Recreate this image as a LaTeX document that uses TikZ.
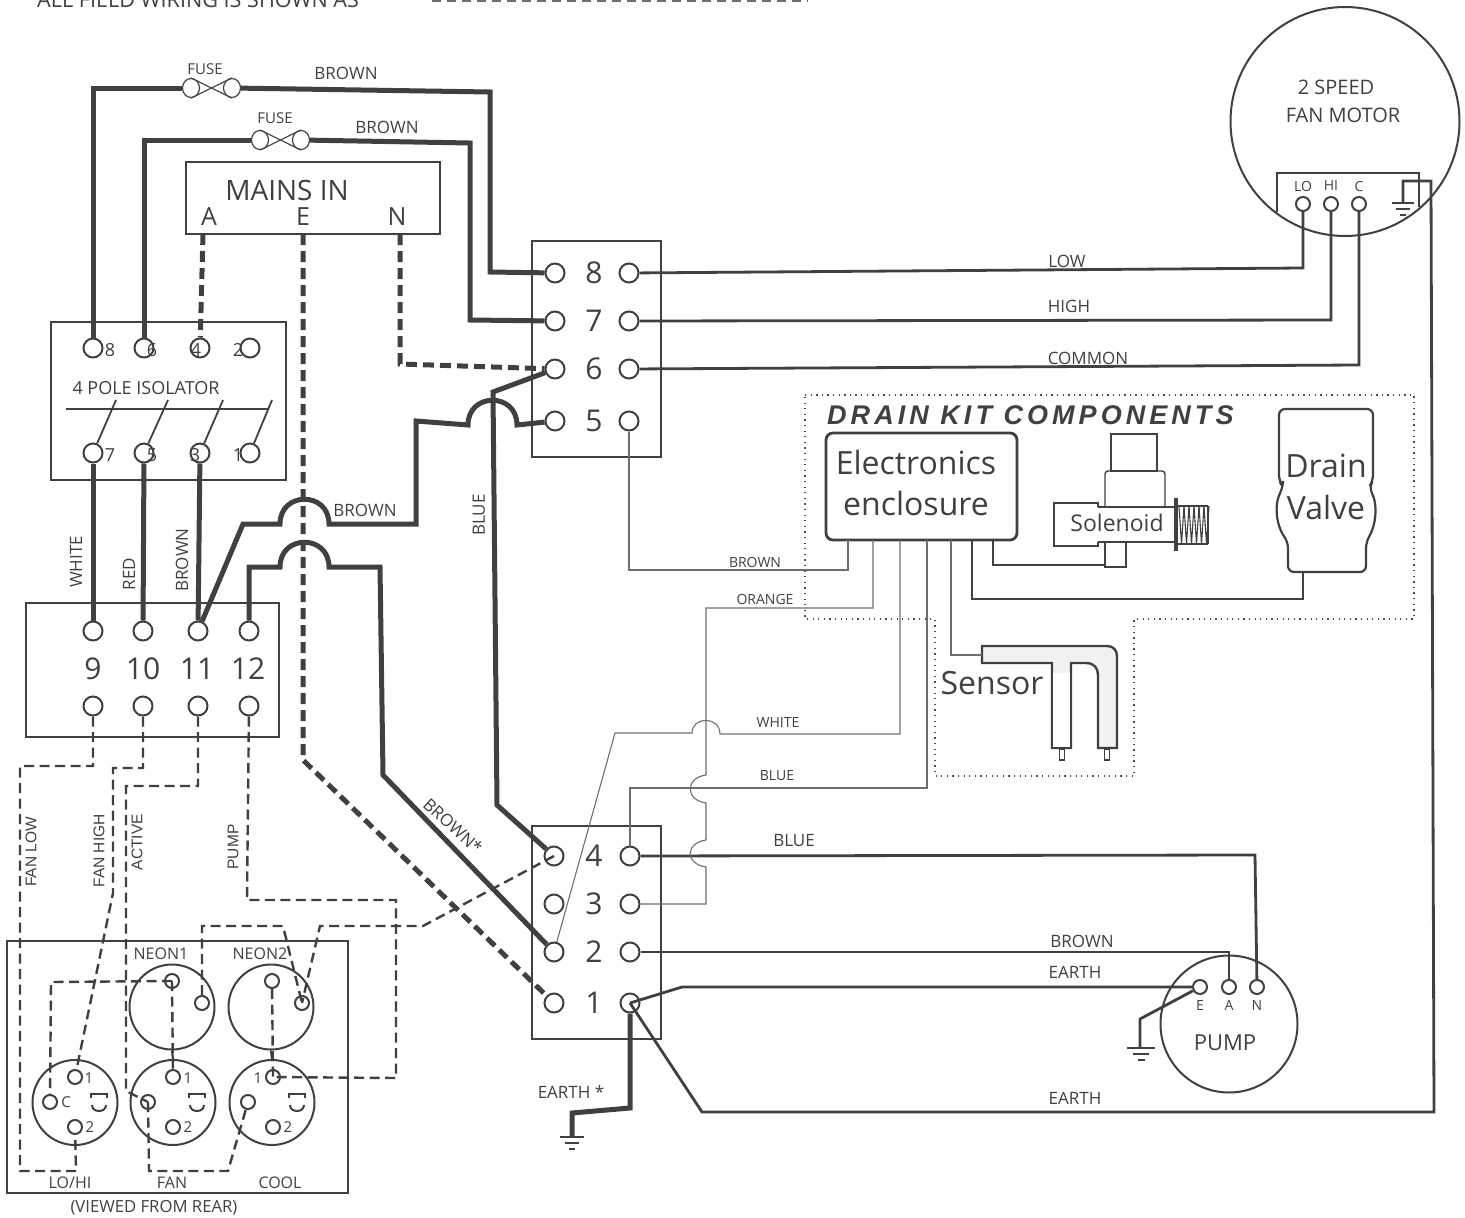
\documentclass[tikz,border=0pt]{standalone}
\usepackage{fontspec}
\setmainfont{Open Sans}
\newfontfamily\headfont[LetterSpace=15]{Liberation Sans}
\newfontfamily\tagfont{Liberation Sans}
\usetikzlibrary{shapes.geometric}
\definecolor{wire}{HTML}{404040}
\definecolor{thinwire}{HTML}{6e6e6e}
\definecolor{ink}{HTML}{404040}
\tikzset{
lab/.style={font=\fontsize{#1}{#1}\selectfont,text=ink,inner sep=0pt},
tag/.style={font=\tagfont\fontsize{15.5}{15.5}\selectfont,text=ink,inner sep=0pt,rotate=90},
termA/.style={circle,draw=wire,line width=2pt,minimum size=19pt,inner sep=0pt},
pin/.style={circle,draw=wire,line width=2pt,minimum size=14pt,inner sep=0pt},
socket/.style={circle,draw=wire,line width=2pt,minimum size=85pt,inner sep=0pt},
box/.style={draw=wire,line width=#1,inner sep=0pt},
fusecap/.style={ellipse,draw=wire,line width=1.2pt,minimum width=17pt,minimum height=19pt,inner sep=0pt},
heavy/.style={draw=wire,line width=5pt,line join=miter},
medium/.style={draw=wire,line width=2.8pt},
fine/.style={draw=thinwire,line width=1.1pt},
heavydash/.style={heavy,dash pattern=on 11pt off 6pt},
field/.style={draw=wire,line width=2.4pt,dash pattern=on 10pt off 5.5pt}
}
\begin{document}
\begin{tikzpicture}[x=1pt,y=-1pt]
\useasboundingbox (0,0) rectangle (1465,1218);
\node[lab=21.6,anchor=base west] (title) at (37,7) {ALL FIELD WIRING IS SHOWN AS};
\coordinate (keya) at (432,1);
\coordinate (keyb) at (808,1);
\draw[draw=thinwire,line width=1.5pt,dash pattern=on 9pt off 6pt] (keya) -- (keyb);
% boxes
\node[box=2.6pt,minimum width=254pt,minimum height=72pt] (mains) at (313,198) {};
\node[lab=28] (mainstxt) at (287,190) {MAINS IN};
\foreach \n/\x in {A/209,E/303,N/397}
\node[lab=25] (mains\n) at (\x,217) {\n};
\node[box=1.8pt,minimum width=235pt,minimum height=158pt] (isolator) at (168.5,401) {};
\node[box=1.6pt,minimum width=253pt,minimum height=134pt] (tstrip) at (152.5,670) {};
\node[box=2.6pt,minimum width=129pt,minimum height=216pt] (upper) at (596.5,349) {};
\node[box=2.8pt,minimum width=129pt,minimum height=213pt] (lower) at (596.5,932.5) {};
\node[box=2.6pt,minimum width=341pt,minimum height=252pt] (panel) at (177.5,1067) {};
% isolator
\foreach \n/\x/\t in {8/93/110,6/144/152,4/200/196,2/250/238}{
\node[termA] (iso\n) at (\x,348) {};
\node[lab=18] (isolab\n) at (\t,350) {\n};
}
\foreach \n/\x/\t/\s in {7/93/110/116,5/144/152/168,3/200/195/223,1/250/238/272}{
\node[termA] (iso\n) at (\x,453) {};
\node[lab=18] (isolab\n) at (\t,455) {\n};
\draw[medium,line width=1.8pt] (iso\n) -- (\s,400);
}
\node[lab=18] (isotxt) at (146,388) {4 POLE ISOLATOR};
\draw[medium] (66,409) -- (268,409);
% terminal strip
\foreach \n/\x/\t/\c in {9/93/93/a,10/143/143/b,11/198/197/c,12/249/248/d}{
\node[termA] (tst\n) at (\x,631) {};
\node[termA] (tsb\n) at (\x,706) {};
\node[lab=30] (tslab\n) at (\t,669) {\n};
}
% terminal blocks
\foreach \n/\y in {8/273,7/321,6/369,5/421}{
\node[termA] (ub\n l) at (555,\y) {};
\node[termA] (ub\n r) at (629,\y) {};
\node[lab=30] (ublab\n) at (594,\y) {\n};
}
\foreach \n/\y in {4/856,3/904,2/952,1/1003}{
\node[termA] (lb\n l) at (554,\y) {};
\node[termA] (lb\n r) at (630,\y) {};
\node[lab=30] (lblab\n) at (594,\y) {\n};
}
% fuses
\node[fusecap] (fuseAl) at (191,88) {};
\node[fusecap] (fuseAr) at (232,88) {};
\node[fusecap] (fuseBl) at (260,140) {};
\node[fusecap] (fuseBr) at (301,140) {};
\foreach \f in {A,B}{
\draw[fine,draw=wire] (fuse\f l.north) -- (fuse\f r.south);
\draw[fine,draw=wire] (fuse\f l.south) -- (fuse\f r.north);
}
\node[lab=15] (fuselabA) at (205,69) {FUSE};
\node[lab=15] (fuselabB) at (275,118) {FUSE};
\node[lab=17] (brownA) at (346,73) {BROWN};
\node[lab=17] (brownB) at (387,127) {BROWN};
% heavy wires
\draw[heavy] (iso8) -- (93,88) -- (fuseAl);
\draw[heavy] (fuseAr) -- (490,92) -- (490,272) -- (ub8l);
\draw[heavy] (iso6) -- (144,140) -- (fuseBl);
\draw[heavy] (fuseBr) -- (470,143) -- (470,320) -- (ub7l);
\draw[heavy] (iso7) -- (tst9);
\draw[heavy] (iso5) -- (tst10);
\draw[heavy] (iso3) -- (tst11);
\draw[heavy] (tst11) -- (243,524) -- (280,524) .. controls (280,491) and (329,491) .. (329,524) -- (416,524) -- (416,421) -- (468,425) .. controls (468,392) and (517,392) .. (517,425) -- (ub5l);
\draw[heavy] (tst12) -- (249,567) -- (280,567) .. controls (280,534) and (329,534) .. (329,567) -- (380,567) -- (383,775) -- (lb2l);
\draw[heavy] (ub6l) -- (493,392) -- (497,805) -- (lb4l);
\draw[heavy] (lb1r) -- (630,1108) -- (572,1113) -- (572,1137);
% dashed mains
\coordinate (feedA) at (203,234);
\coordinate (feedE) at (303,234);
\coordinate (feedN) at (400,234);
\draw[heavydash] (feedA) -- (iso4);
\draw[heavydash] (feedN) -- (400,364) -- (ub6l);
\draw[heavydash] (feedE) -- (303,760) -- (lb1l);
% motor
\node[circle,draw=wire,line width=2pt,minimum size=229pt,inner sep=0pt] (motor) at (1345,121.5) {};
\node[lab=20] (motortxtA) at (1336,87) {2 SPEED};
\node[lab=20] (motortxtB) at (1343,115) {FAN MOTOR};
\foreach \n/\x in {LO/1303,HI/1331,C/1359}{
\node[pin] (motor\n) at (\x,204) {};
\node[lab=14] (motorlab\n) at (\x,186) {\n};
}
\draw[medium] (1277,212) -- (1277,173) -- (1419,173) -- (1419,207);
\coordinate (motorgnd) at (1403,203);
\draw[medium] (ub8r) -- (1303,268) -- (motorLO);
\draw[medium] (ub7r) -- (1331,320) -- (motorHI);
\draw[medium] (ub6r) -- (1359,365) -- (motorC);
\draw[medium] (motorgnd) -- (1403,181) -- (1431,181) -- (1434,1112) -- (702,1112) -- (lb1r.center);
\node[lab=17] (lowlab) at (1067,261) {LOW};
\node[lab=17] (highlab) at (1069,306) {HIGH};
\node[lab=17] (commonlab) at (1088,358) {COMMON};
% pump
\node[circle,draw=wire,line width=2pt,minimum size=137pt,inner sep=0pt] (pump) at (1229,1024) {};
\foreach \n/\x in {E/1200,A/1229,N/1257}{
\node[pin] (pump\n) at (\x,987) {};
\node[lab=14] (pumplab\n) at (\x,1005) {\n};
}
\node[lab=22] (pumptxt) at (1225,1043) {PUMP};
\coordinate (pumpgnd) at (1140,1048);
\draw[medium] (lb4r) -- (1255,855) -- (pumpN);
\draw[medium] (lb2r) -- (1229,952) -- (pumpA);
\draw[medium] (lb1r.center) -- (682,987) -- (pumpE);
\draw[medium] (pumpE) -- (1140,1019) -- (pumpgnd);
% grounds
\foreach \x/\y/\s in {1403/203/11,1141/1048/14,572/1137/12}{
\draw[medium] (\x-\s,\y) -- (\x+\s,\y);
\draw[medium] (\x-\s*0.6,\y+6) -- (\x+\s*0.6,\y+6);
\draw[medium] (\x-\s*0.25,\y+12) -- (\x+\s*0.25,\y+12);
}
\node[lab=17] (bluelabC) at (794,841) {BLUE};
\node[lab=17] (brownE) at (1082,941) {BROWN};
\node[lab=17] (earthA) at (1075,972) {EARTH};
\node[lab=17] (earthB) at (1075,1098) {EARTH};
\node[lab=17] (earthC) at (571,1092) {EARTH *};
\node[lab=17,rotate=-42] (brownstar) at (453,826) {BROWN*};
\node[lab=17,rotate=90] (bluelabD) at (479,515) {BLUE};
\node[lab=17] (brownF) at (365,510) {BROWN};
\node[lab=17,rotate=90] (whitelab) at (76,562) {WHITE};
\node[lab=17,rotate=90] (redlab) at (129,574) {RED};
\node[lab=17,rotate=90] (brownG) at (182,560) {BROWN};
% drain kit
\draw[draw=black!70,line width=1.3pt,dash pattern=on 1.3pt off 4.3pt] (805,395) -- (1414,395) -- (1414,619) -- (1134,619) -- (1134,776) -- (935,776) -- (935,619) -- (805,619) -- cycle;
\node[anchor=base west,inner sep=0pt,text=ink,font=\headfont\fontsize{27}{27}\selectfont\bfseries\itshape] (kitlab) at (827,424) {DRAIN KIT COMPONENTS};
\node[box=2.8pt,rounded corners=7pt,minimum width=191pt,minimum height=107pt] (encl) at (921.5,486.5) {};
\node[lab=32] (encltxtA) at (916,462) {Electronics};
\node[lab=32] (encltxtB) at (916,503) {enclosure};
\foreach \n/\x in {brown/848,orange/873,white/900,blue/927,sensor/951,sol/993,valve/972}
\coordinate (encl\n) at (\x,540);
% solenoid
\draw[medium,line width=1.4pt] (1111,471) rectangle (1157,434);
\draw[medium,line width=1.4pt,rounded corners=3pt] (1105,507) -- (1105,471) -- (1165,471) -- (1165,507);
\draw[medium,line width=1.4pt] (1098,507) -- (1176,507) (1098,542) -- (1176,542);
\draw[medium,line width=1.4pt] (1098,507) -- (1098,503) -- (1054,503) -- (1054,546) -- (1098,546) -- (1098,542);
\draw[medium,line width=1.4pt] (1105,542) rectangle (1126,567);
\fill[wire] (1174,498) rectangle (1178,551);
\draw[fine,draw=wire] (1178,506) -- (1208,506) (1178,544) -- (1208,544) (1208,506) -- (1208,544);
\foreach \x in {1179,1184,1189,1194,1199,1204}
\draw[fine,draw=wire] (\x,506) -- (\x+2.5,544) -- (\x+5,506);
\node[lab=23] (soltxt) at (1117,523) {Solenoid};
% valve
\draw[medium,line width=2.2pt,rounded corners=6pt] (1283,487) -- (1279,481) -- (1279,409) -- (1373,409) -- (1373,481) -- (1369,487) .. controls (1378,505) and (1376,525) .. (1366,542) -- (1366,572) -- (1288,572) -- (1288,542) .. controls (1276,525) and (1274,505) .. (1283,487) -- cycle;
\node[lab=32] (valvetxtA) at (1326,466) {Drain};
\node[lab=32] (valvetxtB) at (1326,507) {Valve};
\coordinate (valveport) at (1303,572);
% sensor
\draw[medium,line width=2.4pt,fill=black!5] (982,646) -- (1107,646) .. controls (1113,646) and (1117,650) .. (1117,656) -- (1117,748) -- (1098,748) -- (1098,675) .. controls (1098,668) and (1094,663) .. (1086,663) -- (1071,663) -- (1071,748) -- (1052,748) -- (1052,663) -- (982,663) -- cycle;
\fill[white] (1053.3,673) rectangle (1069.7,746.8);
\draw[medium,line width=1.6pt] (1059.5,749) rectangle (1064.5,760);
\draw[medium,line width=1.6pt] (1104.5,749) rectangle (1109.5,760);
\node[lab=32] (sensortxt) at (992,683) {Sensor};
% fine wires
\draw[fine] (ub5r) -- (629,570) -- (848,570) -- (enclbrown);
\draw[fine] (enclorange) -- (873,608) -- (706,608) -- (706,775) .. controls (685,778) and (685,800) .. (706,803) -- (706,840) .. controls (685,843) and (685,864) .. (706,867) -- (706,904) -- (lb3r);
\draw[fine] (enclwhite) -- (900,734) -- (720,734) .. controls (720,716) and (692,716) .. (692,733) -- (615,733) -- (lb2l);
\draw[fine] (enclblue) -- (927,788) -- (630,788) -- (lb4r);
\draw[fine] (enclsensor) -- (951,655) -- (982,655);
\draw[medium,line width=1.8pt] (enclsol) -- (993,565) -- (1105,565);
\draw[medium,line width=1.8pt] (enclvalve) -- (972,599) -- (1303,599) -- (valveport);
\node[lab=14] (brownD) at (755,562) {BROWN};
\node[lab=14] (orangelab) at (765,599) {ORANGE};
\node[lab=14] (whitelabB) at (778,722) {WHITE};
\node[lab=14] (bluelabB) at (777,776) {BLUE};
% sockets
\node[socket] (neonone) at (172,1007) {};
\node[socket] (neontwo) at (271,1007) {};
\node[socket] (lohi) at (75,1102.5) {};
\node[socket] (fan) at (173,1102.5) {};
\node[socket] (cool) at (272,1102.5) {};
\foreach \s/\x in {lohi/75,fan/173,cool/273}{
\node[pin] (\s one) at (\x,1077) {};
\node[pin] (\s c) at (\x-25,1102) {};
\node[pin] (\s two) at (\x,1127) {};
\node[lab=15] (\s lab) at (\x+15,1127) {2};
\draw[medium,line width=2pt] (\x+16,1098) -- (\x+16,1094) -- (\x+32,1094) -- (\x+32,1098);
\draw[medium,line width=2pt] (\x+17,1105) .. controls (\x+17,1113) and (\x+31,1113) .. (\x+31,1105);
}
\node[pin] (neononetop) at (172,981) {};
\node[pin] (neononeside) at (202,1003) {};
\node[pin] (neontwotop) at (272,981) {};
\node[pin] (neontwoside) at (302,1003) {};
\node[lab=15] (lohiA) at (89,1078) {1};
\node[lab=15] (lohiC) at (66,1102) {C};
\node[lab=15] (fanA) at (188,1078) {1};
\node[lab=15] (coolA) at (258,1078) {1};
\node[lab=16] (neonlabA) at (161,954) {NEON1};
\node[lab=16] (neonlabB) at (260,954) {NEON2};
\node[lab=16] (lohilab) at (70,1183) {LO/HI};
\node[lab=16] (fanlab) at (172,1183) {FAN};
\node[lab=16] (coollab) at (280,1183) {COOL};
\node[lab=16.7] (rearlab) at (154,1208) {(VIEWED FROM REAR)};
\node[tag] (fanlow) at (31,852) {FAN LOW};
\node[tag] (fanhigh) at (99,851) {FAN HIGH};
\node[tag] (activelab) at (137,842) {ACTIVE};
\node[tag] (pumplab) at (233,847) {PUMP};
% field wiring
\draw[field] (tsb9) -- (93,766) -- (20,766) -- (20,1171) -- (76,1171) -- (lohitwo);
\draw[field] (tsb10) -- (143,768) -- (113,768) -- (113,893) -- (lohione);
\draw[field] (tsb11) -- (198,786) -- (126,786) -- (126,1091) -- (fanc.center);
\draw[field] (tsb12) -- (247,900) -- (396,900) -- (396,1078) -- (coolone.center);
\draw[field] (lb4l.center) -- (423,926) -- (320,926) -- (neontwoside.center);
\draw[field] (neononeside) -- (202,926) -- (283,926) -- (neontwoside.center);
\draw[field] (neononetop.center) -- (51,982) -- (lohic);
\draw[field] (neononetop.center) -- (fanone);
\draw[field] (neontwotop) -- (coolone.center);
\draw[field] (fanc.center) -- (149,1171) -- (228,1171) -- (coolc);
\draw[draw=wire,line width=2.2pt] (neonone.south) -- (fan.north);
\draw[draw=wire,line width=2.2pt] (neontwo.south) -- (cool.north);
\end{tikzpicture}
\end{document}
